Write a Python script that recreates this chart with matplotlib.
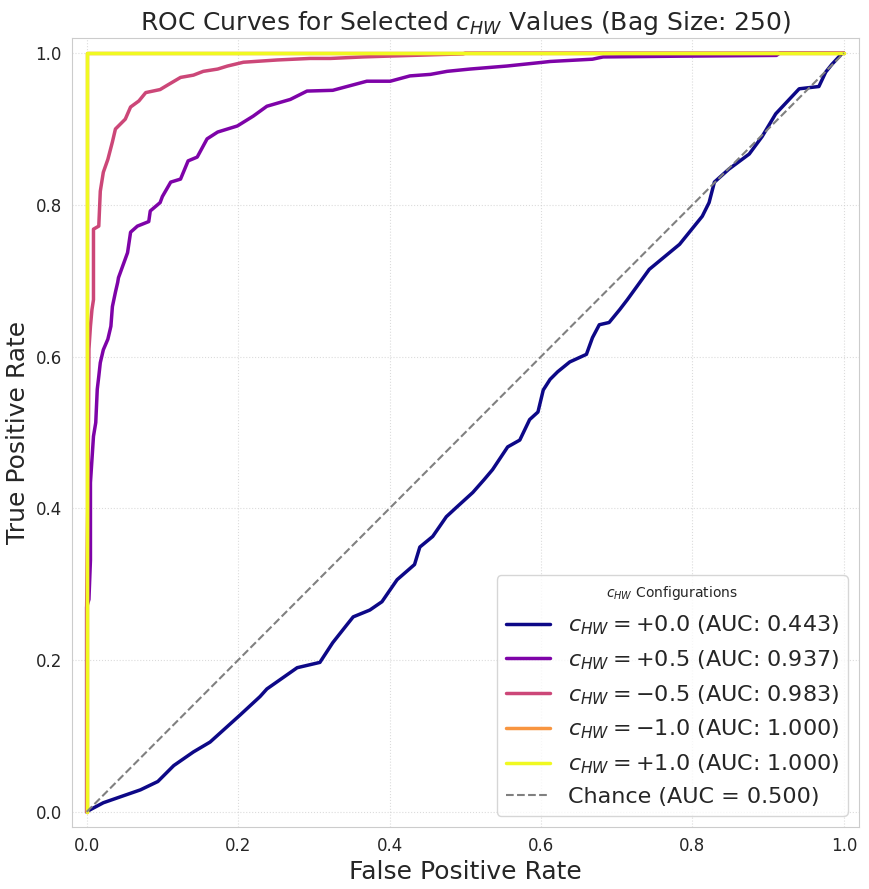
import numpy as np
import matplotlib
matplotlib.use("Agg")
import matplotlib.pyplot as plt
import seaborn as sns

sns.set_style("whitegrid")
plt.rcParams['font.family'] = ['DejaVu Sans']

# c_HW configurations and AUCs
labels_c = ["+0.0", "+0.5", "-0.5", "-1.0", "+1.0"]
aucs = [0.443, 0.937, 0.983, 1.000, 1.000]

# ROC curve points
fpr_00 = [0.0, 0.005, 0.022, 0.045, 0.071, 0.094, 0.115, 0.141, 0.163, 0.203, 0.229, 0.238,
          0.278, 0.308, 0.325, 0.344, 0.352, 0.374, 0.390, 0.401, 0.410, 0.433, 0.440,
          0.457, 0.475, 0.488, 0.510, 0.525, 0.536, 0.556, 0.572, 0.585, 0.596, 0.603,
          0.612, 0.622, 0.638, 0.660, 0.668, 0.677, 0.690, 0.704, 0.714, 0.743, 0.783,
          0.813, 0.822, 0.829, 0.848, 0.875, 0.892, 0.910, 0.941, 0.967, 0.976, 0.984,
          0.997, 1.0]
tpr_00 = [0.0, 0.003, 0.012, 0.02, 0.029, 0.040, 0.061, 0.079, 0.092, 0.128, 0.152, 0.162,
          0.190, 0.197, 0.223, 0.247, 0.257, 0.266, 0.277, 0.293, 0.306, 0.326, 0.349,
          0.363, 0.389, 0.401, 0.421, 0.438, 0.451, 0.481, 0.490, 0.517, 0.527, 0.556,
          0.570, 0.580, 0.593, 0.603, 0.625, 0.642, 0.645, 0.662, 0.675, 0.715, 0.748,
          0.785, 0.803, 0.83, 0.847, 0.867, 0.89, 0.92, 0.953, 0.956, 0.975, 0.985,
          0.999, 1.0]

fpr_05 = [0.0, 0.0, 0.003, 0.005, 0.005, 0.009, 0.012, 0.014, 0.016, 0.018, 0.022, 0.028,
          0.032, 0.034, 0.038, 0.041, 0.042, 0.054, 0.058, 0.067, 0.082, 0.084, 0.097,
          0.100, 0.111, 0.124, 0.134, 0.146, 0.159, 0.173, 0.199, 0.220, 0.238, 0.269,
          0.291, 0.325, 0.355, 0.370, 0.401, 0.427, 0.454, 0.476, 0.506, 0.555, 0.603,
          0.612, 0.668, 0.682, 0.783, 0.911, 0.915, 1.0]
tpr_05 = [0.0, 0.27, 0.28, 0.332, 0.434, 0.495, 0.513, 0.557, 0.574, 0.592, 0.609, 0.623,
          0.640, 0.666, 0.685, 0.698, 0.704, 0.737, 0.764, 0.772, 0.778, 0.792, 0.803,
          0.811, 0.830, 0.834, 0.858, 0.863, 0.887, 0.896, 0.904, 0.917, 0.930, 0.939,
          0.950, 0.951, 0.959, 0.963, 0.963, 0.970, 0.972, 0.976, 0.979, 0.983, 0.988,
          0.989, 0.992, 0.995, 0.996, 0.997, 1.0, 1.0]

fpr_m05 = [0.0, 0.0, 0.002, 0.003, 0.005, 0.007, 0.009, 0.009, 0.016, 0.018, 0.022, 0.028,
           0.034, 0.038, 0.042, 0.051, 0.058, 0.069, 0.078, 0.097, 0.107, 0.124, 0.141,
           0.154, 0.173, 0.186, 0.207, 0.252, 0.295, 0.322, 0.365, 0.396, 0.497, 0.50, 1.0]
tpr_m05 = [0.0, 0.27, 0.45, 0.61, 0.64, 0.662, 0.675, 0.768, 0.772, 0.818, 0.843, 0.860,
           0.883, 0.900, 0.904, 0.913, 0.929, 0.937, 0.948, 0.952, 0.958, 0.968, 0.971,
           0.976, 0.979, 0.983, 0.988, 0.991, 0.993, 0.993, 0.995, 0.996, 0.999, 1.0, 1.0]

fpr_m10 = [0.0, 0.0, 1.0]
tpr_m10 = [0.0, 1.0, 1.0]
fpr_p10 = [0.0, 0.0, 1.0]
tpr_p10 = [0.0, 1.0, 1.0]

curves = [(fpr_00, tpr_00), (fpr_05, tpr_05), (fpr_m05, tpr_m05),
          (fpr_m10, tpr_m10), (fpr_p10, tpr_p10)]
colors = plt.cm.plasma(np.linspace(0, 1, len(curves)))

fig = plt.figure(figsize=(8.69, 8.89), dpi=100)
ax = fig.add_axes([0.0823, 0.0697, 0.9885 - 0.0823, 0.9573 - 0.0697])

for (f, t), lab, auc, col in zip(curves, labels_c, aucs, colors):
    ax.plot(f, t, color=col, lw=2.5,
            label=r"$c_{HW} = " + lab + r"$" + f" (AUC: {auc:.3f})")

ax.plot([0, 1], [0, 1], color='gray', ls='--', lw=1.5, label="Chance (AUC = 0.500)")

ax.set_xlim(-0.02, 1.02)
ax.set_ylim(-0.02, 1.02)
ax.set_xlabel("False Positive Rate", fontsize=18)
ax.set_ylabel("True Positive Rate", fontsize=18)
ax.set_title(r"ROC Curves for Selected $c_{HW}$ Values (Bag Size: 250)", fontsize=18)
ax.tick_params(labelsize=12)
ax.grid(True, ls=':', alpha=0.7)
leg = ax.legend(loc='lower right', fontsize=16, title=r"$c_{HW}$ Configurations",
                title_fontsize=10, frameon=True)
fig.savefig("out.png", dpi=100)
